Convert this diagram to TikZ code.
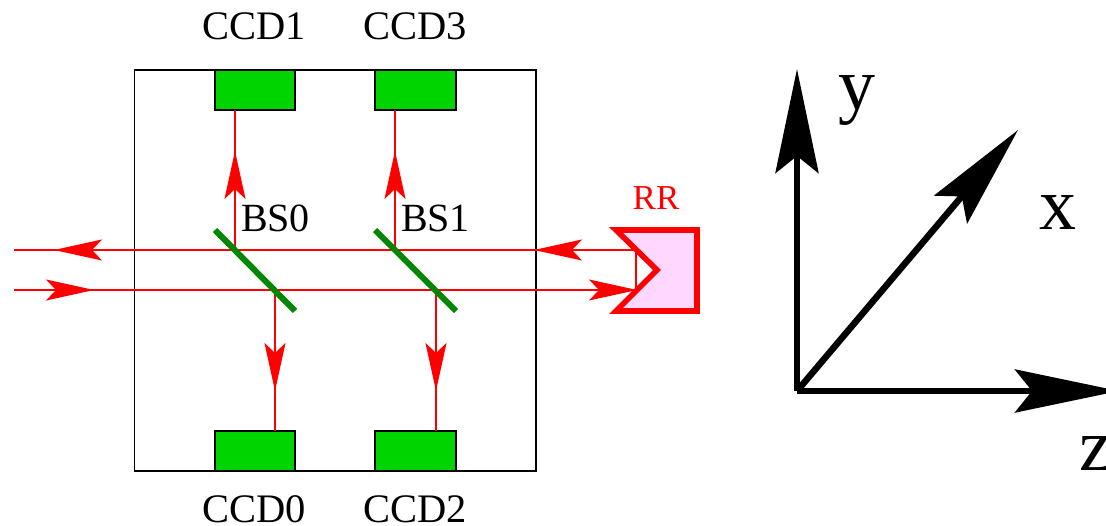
\documentclass[tikz,border=0pt]{standalone}
\usepackage{fontspec}
\setmainfont{Liberation Serif}
\usetikzlibrary{arrows.meta}
\definecolor{ccdgreen}{RGB}{0,212,0}
\definecolor{mirrorgreen}{RGB}{0,135,0}
\definecolor{rrpink}{RGB}{255,215,255}
\tikzset{
  ccd/.style={draw=black,fill=ccdgreen,line width=1.8pt,minimum width=80.5pt,minimum height=40pt,inner sep=0pt,outer sep=0pt,anchor=center},
  lbl/.style={inner sep=0pt,outer sep=0pt,anchor=base west,font=\fontsize{40.5}{43}\selectfont},
  bslbl/.style={inner sep=0pt,outer sep=0pt,anchor=base west,font=\fontsize{40}{42}\selectfont},
  axlbl/.style={inner sep=0pt,outer sep=0pt,anchor=base west,font=\fontsize{74}{76}\selectfont},
  beam/.style={draw=red,line width=1.7pt},
  beamtip/.style={beam,-{Stealth[length=48pt,width=21pt,inset=10pt,fill=red]}},
  mirror/.style={draw=mirrorgreen,line width=6pt},
  axis/.style={draw=black,line width=6.5pt,-{Stealth[length=104pt,width=43pt,inset=17pt,fill=black]}},
}
\begin{document}
\begin{tikzpicture}[x=1pt,y=-1pt]
\useasboundingbox (0,0) rectangle (1106,526);
\clip (0,0) rectangle (1106,526);
% beam waypoints
\coordinate (inL) at (14,290);
\coordinate (outL) at (14,250);
\coordinate (outTip) at (54,250);
\coordinate (inTip) at (94,290);
\coordinate (rrTop) at (636,250);
\coordinate (rrBot) at (636,290);
\coordinate (rrInTip) at (637,290);
\coordinate (rrOutTip) at (534,250);
\coordinate (b0a) at (235,250);
\coordinate (b0b) at (275,290);
\coordinate (b1a) at (395,250);
\coordinate (b1b) at (436,290);
\coordinate (up0) at (235,151);
\coordinate (up1) at (395,151);
\coordinate (dn0) at (275,391);
\coordinate (dn1) at (436,391);
% frame
\node[draw=black,line width=1.6pt,minimum width=401.5pt,minimum height=401pt,inner sep=0pt,outer sep=0pt] (frame) at (335.25,270.5) {};
% detectors
\node[ccd] (ccd1) at (255,90) {};
\node[ccd] (ccd3) at (415.5,90) {};
\node[ccd] (ccd0) at (255,451) {};
\node[ccd] (ccd2) at (415.5,451) {};
% beams
\draw[beam] (outL) -- (rrTop) -- (rrBot);
\draw[beam] (inL) -- (rrBot);
\draw[beam] (b0a) -- (b0a |- ccd1.south);
\draw[beam] (b1a) -- (b1a |- ccd3.south);
\draw[beam] (b0b) -- (b0b |- ccd0.north);
\draw[beam] (b1b) -- (b1b |- ccd2.north);
\draw[beamtip] (b0a) -- (up0);
\draw[beamtip] (b1a) -- (up1);
\draw[beamtip] (b0b) -- (dn0);
\draw[beamtip] (b1b) -- (dn1);
\draw[beamtip] (b0a) -- (outTip);
\draw[beamtip] (inL) -- (inTip);
\draw[beamtip] (rrTop) -- (rrOutTip);
\draw[beamtip] (b1b) -- (rrInTip);
% beam splitters
\coordinate (m0a) at (215,230);
\coordinate (m0b) at (295,311);
\coordinate (m1a) at (375,230);
\coordinate (m1b) at (456,311);
\draw[mirror] (m0a) -- (m0b);
\draw[mirror] (m1a) -- (m1b);
% retroreflector
\fill[rrpink] (697,230) -- (616,230) -- (657,270) -- (616,311) -- (697,311) -- cycle;
\draw[red,line width=5.6pt,miter limit=10,line join=miter] (697,230) -- (616,230) -- (657,270) -- (616,311) -- (697,311) -- cycle;
% labels
\node[lbl] (t1) at (202,39.5) {CCD1};
\node[lbl] (t3) at (363,39.5) {CCD3};
\node[lbl] (t0) at (202,522) {CCD0};
\node[lbl] (t2) at (363,522) {CCD2};
\node[bslbl] (bs0) at (241,232) {BS0};
\node[bslbl] (bs1) at (401,232) {BS1};
\node[inner sep=0pt,outer sep=0pt,anchor=base,text=red,font=\fontsize{35}{37}\selectfont] (rr) at (656,210) {RR};
% axes
\coordinate (org) at (797,391);
\coordinate (ytip) at (797,69);
\coordinate (xtip) at (1018,130);
\coordinate (ztip) at (1119,391);
\draw[axis] (org) -- (ytip);
\draw[axis] (org) -- (xtip);
\draw[axis] (org) -- (ztip);
\node[axlbl] (ylab) at (838,110) {y};
\node[axlbl] (xlab) at (1039,230) {x};
\node[axlbl] (zlab) at (1079,471) {z};
\end{tikzpicture}
\end{document}
